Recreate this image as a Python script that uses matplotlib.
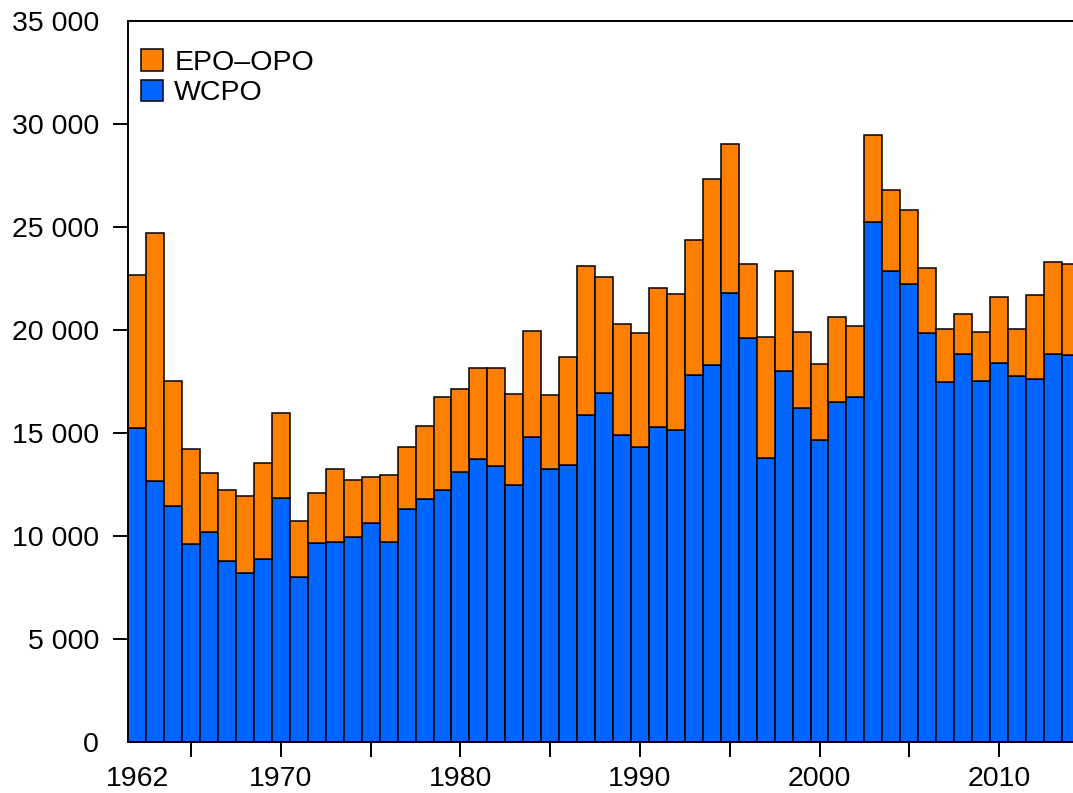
import numpy as np
import matplotlib
matplotlib.use("Agg")
import matplotlib.pyplot as plt

plt.rcParams['font.family'] = ['Liberation Sans', 'DejaVu Sans']

# catch by year, two ocean regions (stacked)
years = np.arange(1962, 2015)
wcpo = [15220, 12680, 11470, 9600, 10180, 8800, 8220, 8870, 11860, 8010,
        9650, 9700, 9970, 10650, 9700, 11310, 11790, 12230, 13120, 13730,
        13410, 12470, 14790, 13250, 13440, 15870, 16950, 14900, 14330, 15300,
        15130, 17820, 18280, 21770, 19600, 13780, 18020, 16210, 14670, 16480,
        16730, 25230, 22870, 22220, 19830, 17450, 18810, 17520, 18400, 17770,
        17630, 18810, 18760]
total = [22660, 24690, 17530, 14200, 13070, 12230, 11950, 13540, 15970, 10740,
         12080, 13250, 12720, 12880, 12940, 14330, 15350, 16760, 17130, 18150,
         18130, 16900, 19960, 16820, 18700, 23110, 22580, 20270, 19860, 22010,
         21750, 24340, 27310, 29010, 23180, 19670, 22870, 19880, 18330, 20640,
         20180, 29450, 26780, 25800, 22990, 20050, 20750, 19890, 21610, 20050,
         21700, 23300, 23190]
epo_opo = np.array(total) - np.array(wcpo)

ytick_vals = np.arange(0, 35001, 5000)
ytick_labels = ['0', '5 000', '10 000', '15 000', '20 000', '25 000', '30 000', '35 000']

blue = '#0066FF'
orange = '#FF7F00'

fig = plt.figure(figsize=(10.73, 7.93), dpi=100)
ax = fig.add_axes([0.1196, 0.064, 0.8804, 0.910])

ax.bar(years, wcpo, width=1.0, color=blue, edgecolor='black', linewidth=1.1, label='WCPO')
ax.bar(years, epo_opo, width=1.0, bottom=wcpo, color=orange, edgecolor='black',
       linewidth=1.1, label='EPO\u2013OPO')

ax.set_xlim(1961.5, 2014.12)
ax.set_ylim(0, 35000)

ax.set_yticks(ytick_vals)
ax.set_yticklabels(ytick_labels)
yt = ax.yaxis.get_major_ticks()
yt[0].tick1line.set_visible(False)
yt[-1].tick1line.set_visible(False)

xt = np.arange(1965, 2011, 5)
ax.set_xticks(xt)
ax.set_xticklabels([str(y) if y % 10 == 0 else '' for y in xt])
ax.set_xticks([1962], minor=True)
ax.set_xticklabels(['1962'], minor=True)

ax.tick_params(axis='both', which='major', direction='out', length=11, width=1.4,
               labelsize=20.5, color='black')
ax.tick_params(axis='x', which='both', pad=6)
ax.tick_params(axis='x', which='minor', length=0, labelsize=20.5, pad=6 + 11)
ax.tick_params(axis='y', pad=10)

for side in ['left', 'bottom', 'top']:
    ax.spines[side].set_linewidth(1.4)
ax.spines['right'].set_visible(False)

handles, labels = ax.get_legend_handles_labels()
ax.legend(handles[::-1], labels[::-1], loc='upper left', bbox_to_anchor=(0.0131, 0.960),
          frameon=False, fontsize=20.5, handlelength=0.8, handleheight=0.8,
          handletextpad=0.38, labelspacing=0.12, borderpad=0, borderaxespad=0)

fig.savefig('out.png', dpi=100)
